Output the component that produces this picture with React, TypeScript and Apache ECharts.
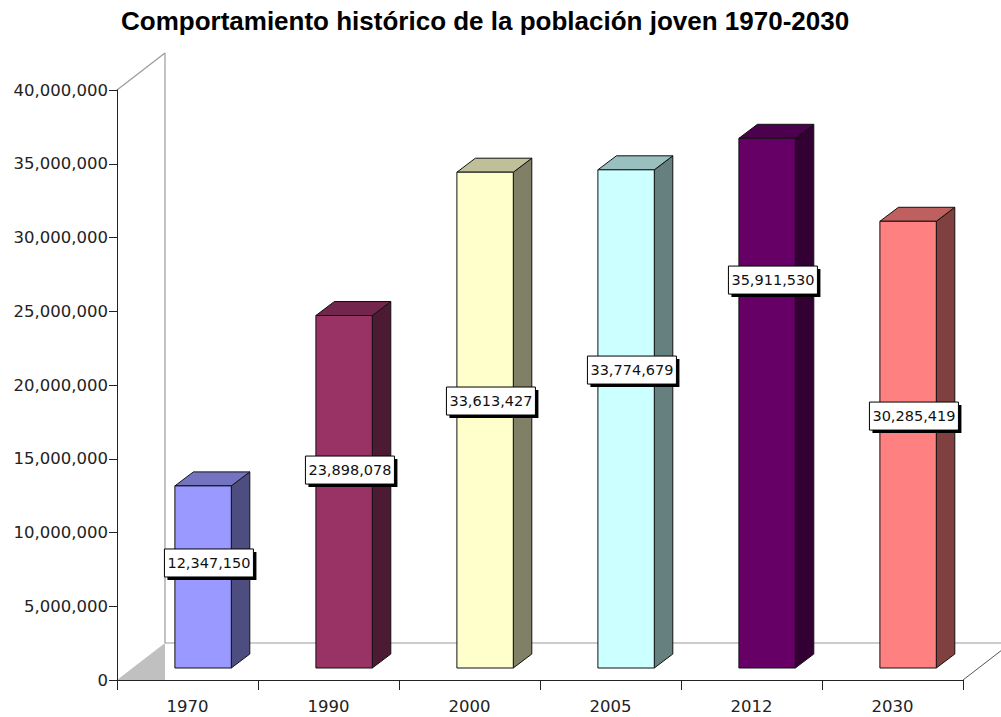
import React, { useEffect, useRef } from "react";
import * as echarts from "echarts";

const categories = ["1970", "1990", "2000", "2005", "2012", "2030"];
const values = [12347150, 23898078, 33613427, 33774679, 35911530, 30285419];
// where each value label box sits (in axis units, on the bars' front plane)
const labelAnchors = [7120000, 13420000, 18100000, 20200000, 26300000, 17080000];
const yTicks = { min: 0, max: 40000000, interval: 5000000 };

const frontColors = ["#9999FF", "#993366", "#FFFFCC", "#CCFFFF", "#660066", "#FF8080"];
const sideColors = ["#4D4D80", "#4D1A33", "#808066", "#668080", "#330033", "#804040"];
const topColors = ["#7373BF", "#73264D", "#BFBF99", "#99BFBF", "#4D004D", "#BF6060"];

// 3D look (pixels)
const WALL_DX = 48;
const WALL_DY = -37;
const FRONT_DX = 15.6;
const FRONT_DY = -12;
const BAR_DX = 18.5;
const BAR_DY = -14;

const fmt = (v: number) => Math.round(v).toLocaleString("en-US");

export default function App() {
  const ref = useRef<HTMLDivElement>(null);

  useEffect(() => {
    if (!ref.current) return;
    const chart = echarts.init(ref.current, undefined, { renderer: "svg" });
    const barData = values.map((v, i) => [i, v]);
    const labelData = values.map((v, i) => [i, labelAnchors[i], v]);

    const option: any = {
      animation: false,
      backgroundColor: "#ffffff",
      title: {
        text: "Comportamiento histórico de la población joven 1970-2030",
        left: 116,
        top: 3,
        textStyle: {
          fontFamily: "Liberation Sans",
          fontWeight: "bold",
          fontSize: 26,
          color: "#000",
        },
      },
      grid: { left: 117, right: 38, top: 90, bottom: 37, containLabel: false },
      xAxis: {
        type: "category",
        data: categories,
        boundaryGap: true,
        axisLine: { show: true, lineStyle: { color: "#222", width: 1 } },
        axisTick: { show: true, alignWithLabel: false, interval: 0, length: 10, lineStyle: { color: "#222" } },
        axisLabel: {
          margin: 18,
          fontFamily: "DejaVu Sans",
          fontSize: 16.5,
          color: "#222",
          interval: 0,
        },
        splitLine: { show: false },
      },
      yAxis: {
        type: "value",
        min: yTicks.min,
        max: yTicks.max,
        interval: yTicks.interval,
        axisLine: { show: true, lineStyle: { color: "#222", width: 1 } },
        axisTick: { show: true, length: 8, lineStyle: { color: "#222" } },
        axisLabel: {
          margin: 9,
          fontFamily: "DejaVu Sans",
          fontSize: 16.5,
          color: "#222",
          formatter: (v: number) => fmt(v),
        },
        splitLine: { show: false },
      },
      series: [
        {
          type: "custom",
          z: -1,
          silent: true,
          data: [[0, 0]],
          encode: { x: 0, y: 1 },
          renderItem: (params: any, api: any) => {
            const band = api.size([1, 0])[0];
            const first = api.coord([0, yTicks.min]);
            const last = api.coord([categories.length - 1, yTicks.min]);
            const topPt = api.coord([0, yTicks.max]);
            const left = first[0] - band / 2;
            const right = last[0] + band / 2;
            const y0 = first[1];
            const yT = topPt[1];
            const gray = "#9a9a9a";
            return {
              type: "group",
              children: [
                {
                  type: "polygon",
                  shape: { points: [[left, y0], [left + WALL_DX, y0 + WALL_DY], [left + WALL_DX, y0]] },
                  style: { fill: "#C0C0C0", stroke: "none" },
                },
                {
                  type: "line",
                  shape: { x1: left, y1: yT, x2: left + WALL_DX, y2: yT + WALL_DY },
                  style: { stroke: gray, lineWidth: 1.2 },
                },
                {
                  type: "line",
                  shape: { x1: left + WALL_DX, y1: yT + WALL_DY, x2: left + WALL_DX, y2: y0 + WALL_DY },
                  style: { stroke: gray, lineWidth: 1.2 },
                },
                {
                  type: "line",
                  shape: { x1: left + WALL_DX, y1: y0 + WALL_DY, x2: right + WALL_DX + 20, y2: y0 + WALL_DY },
                  style: { stroke: gray, lineWidth: 1.2 },
                },
                {
                  type: "line",
                  shape: { x1: right, y1: y0, x2: right + WALL_DX, y2: y0 + WALL_DY },
                  style: { stroke: "#555", lineWidth: 1 },
                },
              ],
            };
          },
        },
        {
          type: "custom",
          z: 3,
          silent: true,
          data: barData,
          encode: { x: 0, y: 1 },
          renderItem: (params: any, api: any) => {
            const i = params.dataIndex;
            const idx = api.value(0);
            const v = api.value(1);
            const base = api.coord([idx, 0]);
            const topP = api.coord([idx, v]);
            const band = api.size([1, 0])[0];
            const x0 = base[0] - 0.2 * band + FRONT_DX;
            const x1 = x0 + 0.4 * band;
            const yb = base[1] + FRONT_DY;
            const yt = topP[1] + FRONT_DY;
            return {
              type: "group",
              children: [
                {
                  type: "polygon",
                  shape: {
                    points: [[x1, yb], [x1 + BAR_DX, yb + BAR_DY], [x1 + BAR_DX, yt + BAR_DY], [x1, yt]],
                  },
                  style: { fill: sideColors[i], stroke: "#111", lineWidth: 1 },
                },
                {
                  type: "polygon",
                  shape: {
                    points: [[x0, yt], [x1, yt], [x1 + BAR_DX, yt + BAR_DY], [x0 + BAR_DX, yt + BAR_DY]],
                  },
                  style: { fill: topColors[i], stroke: "#111", lineWidth: 1 },
                },
                {
                  type: "rect",
                  shape: { x: x0, y: yt, width: x1 - x0, height: yb - yt },
                  style: { fill: frontColors[i], stroke: "#111", lineWidth: 1 },
                },
              ],
            };
          },
        },
        {
          type: "custom",
          z: 5,
          silent: true,
          data: labelData,
          encode: { x: 0, y: 1 },
          renderItem: (params: any, api: any) => {
            const idx = api.value(0);
            const at = api.value(1);
            const v = api.value(2);
            const p = api.coord([idx, at]);
            const band = api.size([1, 0])[0];
            const cx = p[0] + 0.152 * band;
            const cy = p[1] + FRONT_DY;
            const w = 89;
            const h = 28;
            return {
              type: "group",
              children: [
                {
                  type: "rect",
                  shape: { x: cx - w / 2 + 3, y: cy - h / 2 + 3, width: w, height: h },
                  style: { fill: "#000" },
                },
                {
                  type: "rect",
                  shape: { x: cx - w / 2, y: cy - h / 2, width: w, height: h },
                  style: { fill: "#fff", stroke: "#000", lineWidth: 1 },
                },
                {
                  type: "text",
                  x: cx,
                  y: cy,
                  style: {
                    text: fmt(v),
                    fill: "#111",
                    fontFamily: "DejaVu Sans",
                    fontSize: 14.5,
                    align: "center",
                    verticalAlign: "middle",
                  },
                },
              ],
            };
          },
        },
      ],
    };
    chart.setOption(option);
    return () => chart.dispose();
  }, []);

  return (
    <div
      ref={ref}
      style={{ position: "fixed", left: 0, top: 0, width: 1001, height: 717, background: "#fff" }}
    />
  );
}
